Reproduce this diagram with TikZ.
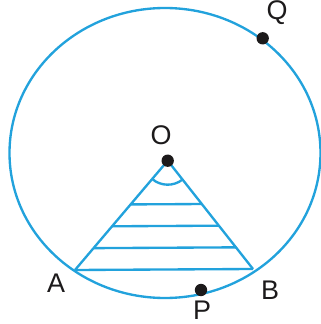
\documentclass[tikz,border=0pt]{standalone}
\usepackage{fontspec}
\setmainfont{Liberation Sans}
\usetikzlibrary{calc,angles}
\definecolor{rim}{HTML}{22A2DC}
\definecolor{ink}{HTML}{1C1A1B}

\begin{document}
\begin{tikzpicture}[x=0.03cm, y=0.03cm, every node/.style={font=\fontsize{23}{27}\selectfont, text=ink}]
        \useasboundingbox (0,0) rectangle (321,324);
        \tikzset{edge/.style={rim, line width=2pt}, dot/.style={circle, fill=ink, inner sep=0pt, minimum size=0.37cm}}
        % points
        \coordinate (O) at (167.7,163.3);
        \coordinate (A) at (75,54);
        \coordinate (B) at (253,55);
        \coordinate (P) at (201,34);
        \coordinate (Q) at (262.7,285.7);
        % circle and sector
        \draw[edge] (165,171) ellipse [x radius=155.5, y radius=145];
        \draw[edge] (A) -- (O) -- (B);
        \foreach \t in {0.4,0.6,0.8,1}{
          \draw[edge] ($(O)!\t!(A)$) -- ($(O)!\t!(B)$);
        }
        \pic[draw=rim, line width=2pt, angle radius=0.72cm] {angle = A--O--B};
        % dots and labels
        \foreach \p in {O,P,Q}{
          \node[dot] (dot\p) at (\p) {};
        }
        \node (labO) at (161,189) {O};
        \node (labQ) at (277,311) {Q};
        \node (labA) at (56,41) {A};
        \node (labB) at (270,34) {B};
        \node (labP) at (202,14) {P};
      \end{tikzpicture}
\end{document}
